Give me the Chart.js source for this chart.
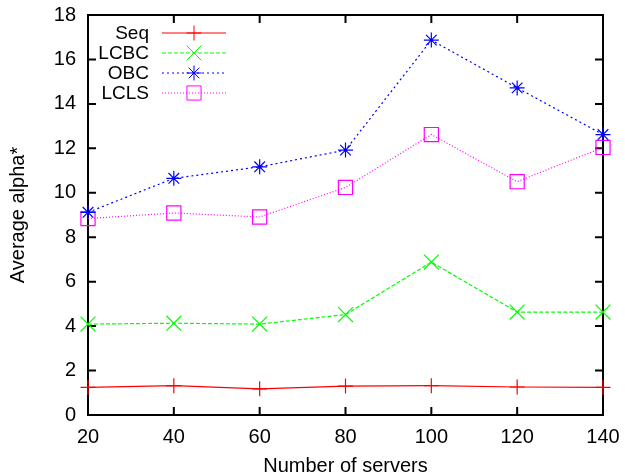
<!DOCTYPE html>
<html>
<head>
<meta charset="utf-8">
<script src="https://cdn.jsdelivr.net/npm/chart.js@4/dist/chart.umd.min.js"></script>
<style>
  html, body { margin: 0; padding: 0; background: #fff; }
</style>
</head>
<body>
<canvas id="myChart" width="625" height="475"></canvas>
<script>
const servers = [20, 40, 60, 80, 100, 120, 140];
const seq  = [1.24, 1.32, 1.18, 1.30, 1.32, 1.26, 1.24];
const lcbc = [4.09, 4.13, 4.09, 4.52, 6.88, 4.63, 4.63];
const obc  = [9.12, 10.65, 11.17, 11.92, 16.87, 14.72, 12.62];
const lcls = [8.84, 9.09, 8.91, 10.24, 12.62, 10.50, 12.04];
const xTicks = [20, 40, 60, 80, 100, 120, 140];
const yTicks = [0, 2, 4, 6, 8, 10, 12, 14, 16, 18];

const FONT = '"Liberation Sans", Arial, sans-serif';

function pts(ys) {
  return servers.map((x, i) => ({ x: x, y: ys[i] }));
}

// gnuplot style box with inward ticks on all four sides
const frame = {
  id: 'frame',
  beforeDatasetsDraw(chart) {
    const { ctx, chartArea: a, scales } = chart;
    ctx.save();
    ctx.strokeStyle = '#000';
    ctx.lineWidth = 2;
    ctx.strokeRect(a.left, a.top, a.right - a.left, a.bottom - a.top);
    ctx.beginPath();
    xTicks.forEach(v => {
      const px = scales.x.getPixelForValue(v);
      ctx.moveTo(px, a.bottom); ctx.lineTo(px, a.bottom - 8);
      ctx.moveTo(px, a.top); ctx.lineTo(px, a.top + 8);
    });
    yTicks.forEach(v => {
      const py = scales.y.getPixelForValue(v);
      ctx.moveTo(a.left, py); ctx.lineTo(a.left + 8, py);
      ctx.moveTo(a.right, py); ctx.lineTo(a.right - 8, py);
    });
    ctx.stroke();
    ctx.restore();
  }
};

// legend: right aligned text, line sample with marker
const keyBox = {
  id: 'keyBox',
  afterDatasetsDraw(chart) {
    const ctx = chart.ctx;
    ctx.save();
    ctx.font = '19px ' + FONT;
    ctx.textAlign = 'right';
    ctx.textBaseline = 'middle';
    chart.data.datasets.forEach((ds, i) => {
      const y = 33 + i * 20;
      ctx.fillStyle = '#000';
      ctx.fillText(ds.label, 149, y + 1);
      ctx.strokeStyle = ds.borderColor;
      ctx.lineWidth = 1;
      ctx.setLineDash(ds.borderDash || []);
      ctx.beginPath();
      ctx.moveTo(162, y); ctx.lineTo(226, y);
      ctx.stroke();
      ctx.setLineDash([]);
      ctx.fillStyle = 'rgba(0,0,0,0)';
      Chart.helpers.drawPoint(ctx, {
        pointStyle: ds.pointStyle, rotation: 0,
        radius: ds.pointRadius, borderWidth: 1
      }, 194, y);
    });
    ctx.restore();
  }
};

new Chart(document.getElementById('myChart'), {
  type: 'line',
  data: {
    datasets: [
      { label: 'Seq', data: pts(seq), borderColor: '#ff0000', pointStyle: 'cross', pointRadius: 7.5 },
      { label: 'LCBC', data: pts(lcbc), borderColor: '#00ff00', borderDash: [4, 2], pointStyle: 'crossRot', pointRadius: 10.5 },
      { label: 'OBC', data: pts(obc), borderColor: '#0000ff', borderDash: [2, 3], pointStyle: 'star', pointRadius: 7.5 },
      { label: 'LCLS', data: pts(lcls), borderColor: '#ff00ff', borderDash: [1, 2], pointStyle: 'rect', pointRadius: 10 }
    ].map(d => Object.assign({
      borderWidth: 1.2,
      backgroundColor: 'rgba(0,0,0,0)',
      pointBorderColor: d.borderColor,
      pointBorderWidth: 1.2,
      pointHoverRadius: d.pointRadius,
      tension: 0,
      clip: false
    }, d))
  },
  options: {
    responsive: false,
    animation: false,
    events: [],
    layout: { padding: { left: 0, right: 22, top: 15, bottom: 0 } },
    plugins: {
      legend: { display: false },
      tooltip: { enabled: false }
    },
    scales: {
      x: {
        type: 'linear',
        min: 20,
        max: 140,
        afterFit: s => { s.height = 60; s.paddingLeft = 0; s.paddingRight = 0; },
        afterBuildTicks: s => { s.ticks = xTicks.map(v => ({ value: v })); },
        border: { display: false },
        grid: { display: false, drawTicks: false },
        ticks: { color: '#000', padding: 10, maxRotation: 0, font: { family: FONT, size: 20 } },
        title: {
          display: true,
          text: 'Number of servers',
          color: '#000',
          padding: { top: 0, bottom: -1 },
          font: { family: FONT, size: 20, lineHeight: 1 }
        }
      },
      y: {
        min: 0,
        max: 18,
        afterFit: s => { s.width = 88; s.paddingTop = 0; s.paddingBottom = 0; },
        afterBuildTicks: s => { s.ticks = yTicks.map(v => ({ value: v })); },
        border: { display: false },
        grid: { display: false, drawTicks: false },
        ticks: { color: '#000', padding: 12, font: { family: FONT, size: 20 } },
        title: {
          display: true,
          text: 'Average alpha*',
          color: '#000',
          padding: { top: 8, bottom: 0 },
          font: { family: FONT, size: 20, lineHeight: 1 }
        }
      }
    }
  },
  plugins: [frame, keyBox]
});
</script>
</body>
</html>
